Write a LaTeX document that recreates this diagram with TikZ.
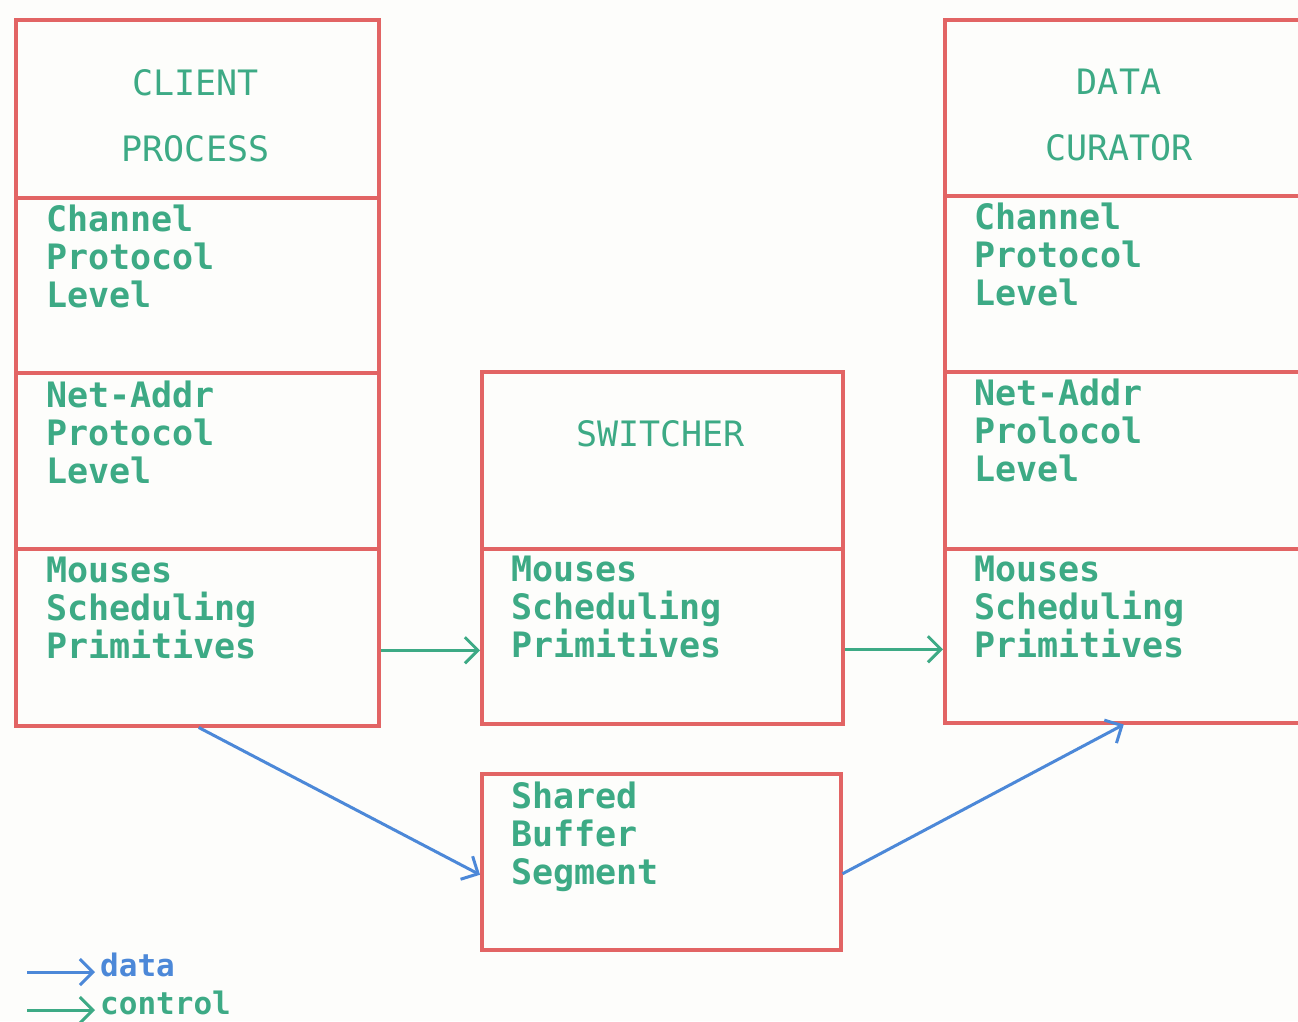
\documentclass[tikz,border=0pt]{standalone}
\usepackage{fontspec}
\setmonofont{DejaVu Sans Mono}
\usetikzlibrary{arrows.meta,calc}

\definecolor{boxred}{HTML}{E26464}
\definecolor{txtgreen}{HTML}{3DAA85}
\definecolor{flowblue}{HTML}{4C88D8}
\definecolor{paper}{HTML}{FDFDFB}

\tikzset{
  cell/.style={draw=boxred, line width=3.5pt, rectangle, inner sep=0pt,
               anchor=north west, minimum width=#1},
  cell/.default=363pt,
  title/.style={text=txtgreen, inner sep=0pt, anchor=center,
                font=\ttfamily\fontsize{35}{38}\selectfont},
  layer/.style={text=txtgreen, inner sep=0pt, anchor=north west, align=left,
                font=\ttfamily\bfseries\fontsize{35}{38}\selectfont},
  barb/.style={-{Straight Barb[length=13pt,width=26pt,line width=3pt]}},
  ctrl/.style={draw=txtgreen, line width=3pt, barb},
  dataflow/.style={draw=flowblue, line width=3pt, barb},
  legend/.style={inner sep=0pt, anchor=west,
                 font=\ttfamily\bfseries\fontsize{31}{34}\selectfont},
}

\begin{document}
\begin{tikzpicture}[x=1pt,y=-1pt]
  \useasboundingbox (0,0) rectangle (1298,1021);
  \fill[paper] (0,0) rectangle (1298,1021);
  \clip (0,0) rectangle (1298,1021);

  % client process column
  \node[cell, minimum height=178pt] (l1) at (14,18) {};
  \node[cell, minimum height=175pt] (l2) at (14,196) {};
  \node[cell, minimum height=176pt] (l3) at (14,371) {};
  \node[cell, minimum height=177pt] (l4) at (14,547) {};

  % switcher column
  \node[cell=361pt, minimum height=177pt] (s1) at (480,370) {};
  \node[cell=361pt, minimum height=175pt] (s2) at (480,547) {};

  % data curator column (runs off the right edge)
  \node[cell=362pt, minimum height=176pt] (r1) at (943,18) {};
  \node[cell=362pt, minimum height=176pt] (r2) at (943,194) {};
  \node[cell=362pt, minimum height=177pt] (r3) at (943,370) {};
  \node[cell=362pt, minimum height=174pt] (r4) at (943,547) {};

  % shared buffer
  \node[cell=359pt, minimum height=176pt] (buf) at (480,772) {};

  % titles
  \node[title] (tclient)  at (195.5,83)  {CLIENT};
  \node[title] (tprocess) at (195.5,149) {PROCESS};
  \node[title] (tswitch)  at (660.5,434) {SWITCHER};
  \node[title] (tdata)    at (1119,82)   {DATA};
  \node[title] (tcurator) at (1119,148)  {CURATOR};

  % layer labels
  \node[layer] (l2t) at (46,205) {Channel\\Protocol\\Level};
  \node[layer] (l3t) at (46,381) {Net-Addr\\Protocol\\Level};
  \node[layer] (l4t) at (46,557) {Mouses\\Scheduling\\Primitives};
  \node[layer] (s2t) at (511,556) {Mouses\\Scheduling\\Primitives};
  \node[layer] (r2t) at (974,203) {Channel\\Protocol\\Level};
  \node[layer] (r3t) at (974,379) {Net-Addr\\Prolocol\\Level};
  \node[layer] (r4t) at (974,556) {Mouses\\Scheduling\\Primitives};
  \node[layer] (buft) at (511,782) {Shared\\Buffer\\Segment};

  % control flow
  \draw[ctrl] ([yshift=-13pt]l4.east) -- ([yshift=-13pt]l4.east -| s2.west);
  \draw[ctrl] ([yshift=-13pt]s2.east) -- ([yshift=-13pt]s2.east -| r4.west);

  % data flow
  \draw[dataflow] ([xshift=1.5pt]l4.south) -- ([yshift=-13pt]buf.west);
  \draw[dataflow] ([yshift=-12pt]buf.east) -- ([xshift=-2pt]r4.south);

  % legend
  \node[legend, text=flowblue] (ldata) at (100,965) {data};
  \node[legend, text=txtgreen] (lctrl) at (100,1003) {control};
  \coordinate (legd) at (27,972);
  \coordinate (legc) at (27,1010);
  \draw[dataflow] (legd) -- ([xshift=-5pt]legd -| ldata.west);
  \draw[ctrl] (legc) -- ([xshift=-5pt]legc -| lctrl.west);
\end{tikzpicture}
\end{document}
